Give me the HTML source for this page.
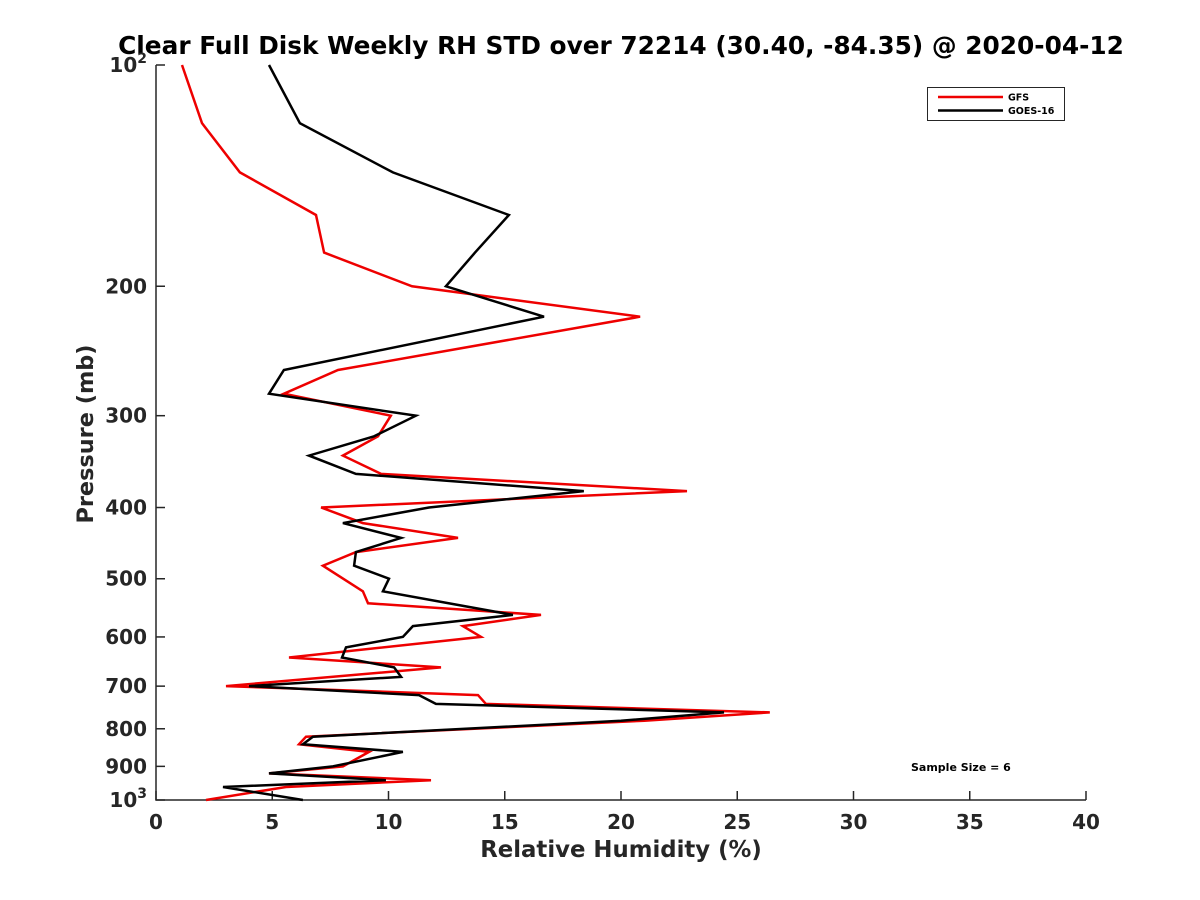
<!DOCTYPE html>
<html><head><meta charset="utf-8"><style>
html,body{margin:0;padding:0;background:#fff;}
svg{display:block;font-family:"DejaVu Sans","Liberation Sans",sans-serif;font-weight:bold;}
</style></head><body>
<svg id="chart" width="1200" height="900" viewBox="0 0 1200 900">
<rect width="1200" height="900" fill="#fff"/>
<text x="621" y="54" text-anchor="middle" font-size="24.8" fill="#000">Clear Full Disk Weekly RH STD over 72214 (30.40, -84.35) @ 2020-04-12</text>
<g id="axes"></g>
<g id="series"></g>
<g>
<rect x="927.5" y="87.5" width="137" height="33" fill="#fff" stroke="#262626" stroke-width="1"/>
<line x1="938" y1="97" x2="1003" y2="97" stroke="#ee0000" stroke-width="2.5"/>
<text x="1008" y="100.5" font-size="9.5" fill="#000">GFS</text>
<line x1="938" y1="110.5" x2="1003" y2="110.5" stroke="#000" stroke-width="2.5"/>
<text x="1008" y="114" font-size="9.5" fill="#000">GOES-16</text>
</g>
<text x="911" y="771" font-size="11" fill="#000">Sample Size = 6</text>
<text x="621" y="857" text-anchor="middle" font-size="22.8" fill="#262626">Relative Humidity (%)</text>
<text transform="translate(93,434) rotate(-90)" text-anchor="middle" font-size="22.4" fill="#262626">Pressure (mb)</text>
</svg>
<script>
const xTicks = [0,5,10,15,20,25,30,35,40];
const yTicks = [100,200,300,400,500,600,700,800,900,1000];
const yTickLabels = ["10²","200","300","400","500","600","700","800","900","10³"];
const gfsPressure = [100,120,140,160,180,200,220,260,280,300,320,340,360,380,400,420,440,460,480,520,540,560,580,600,640,660,700,720,740,760,780,820,840,860,900,920,940,960,1000];
const gfsValues = [1.12,1.98,3.61,6.88,7.23,11.01,20.82,7.83,5.5,10.1,9.55,8.04,9.68,22.84,7.1,8.9,12.99,8.6,7.18,8.9,9.12,16.56,13.2,13.98,5.72,12.26,3.01,13.85,14.19,26.4,21.0,6.45,6.15,9.16,8.04,4.86,11.83,5.59,2.15];
const goesPressure = [100,120,140,160,180,200,220,260,280,300,320,340,360,380,400,420,440,460,480,500,520,560,580,600,620,640,660,680,700,720,740,760,780,820,840,860,900,920,940,960,1000];
const goesValues = [4.86,6.19,10.19,15.18,13.72,12.47,16.69,5.5,4.86,11.18,9.38,6.58,8.6,18.4,11.74,8.04,10.54,8.6,8.52,10.02,9.76,15.35,11.05,10.62,8.17,8.0,10.24,10.54,4.0,11.31,12.04,24.43,20.0,6.75,6.32,10.62,7.61,4.86,9.89,2.88,6.32];

const NS='http://www.w3.org/2000/svg';
const X0=156,X1=1086,Y0=65,Y1=800,XMIN=0,XMAX=40;
function xs(v){return X0+(v-XMIN)/(XMAX-XMIN)*(X1-X0);}
function ys(p){return Y0+(Math.log10(p)-2)*(Y1-Y0);}
function mk(tag,attrs,parent){const e=document.createElementNS(NS,tag);for(const k in attrs)e.setAttribute(k,attrs[k]);parent.appendChild(e);return e;}
const axes=document.getElementById('axes');
const ax=mk('path',{d:`M${X0},${Y0} V${Y1} H${X1}`,fill:'none',stroke:'#262626','stroke-width':1.5},axes);


xTicks.forEach(t=>{
  const x=xs(t);
  const l=mk('line',{x1:x,x2:x,y1:Y1,y2:Y1-9,stroke:'#262626','stroke-width':1.5},axes);
  
  
  const tx=mk('text',{x:x,y:Y1+29,'text-anchor':'middle','font-size':20,fill:'#262626'},axes);
  tx.textContent=String(t);
  
  
});
yTicks.forEach((t,i)=>{
  const y=ys(t);
  const l=mk('line',{x1:X0,x2:X0+9,y1:y,y2:y,stroke:'#262626','stroke-width':1.5},axes);
  
  
  const tx=mk('text',{x:X0-9,y:y+7,'text-anchor':'end','font-size':20,fill:'#262626'},axes);
  const lab=yTickLabels[i];
  if(lab.indexOf('10')===0 && lab.length===3){
    tx.textContent='10';
    const sp=mk('tspan',{dy:-9,'font-size':14},tx);
    sp.textContent=lab==='10²'?'2':'3';
  } else tx.textContent=lab;
  
  
});
const series=document.getElementById('series');
function line(ps,vs,color,name){
  const pts=ps.map((p,i)=>xs(vs[i]).toFixed(1)+','+ys(p).toFixed(1)).join(' ');
  const pl=mk('polyline',{points:pts,fill:'none',stroke:color,'stroke-width':2.5,'stroke-linejoin':'miter'},series);
  
  
}
line(gfsPressure,gfsValues,'#ee0000','gfs-line');
line(goesPressure,goesValues,'#000000','goes16-line');
</script>
</body></html>
